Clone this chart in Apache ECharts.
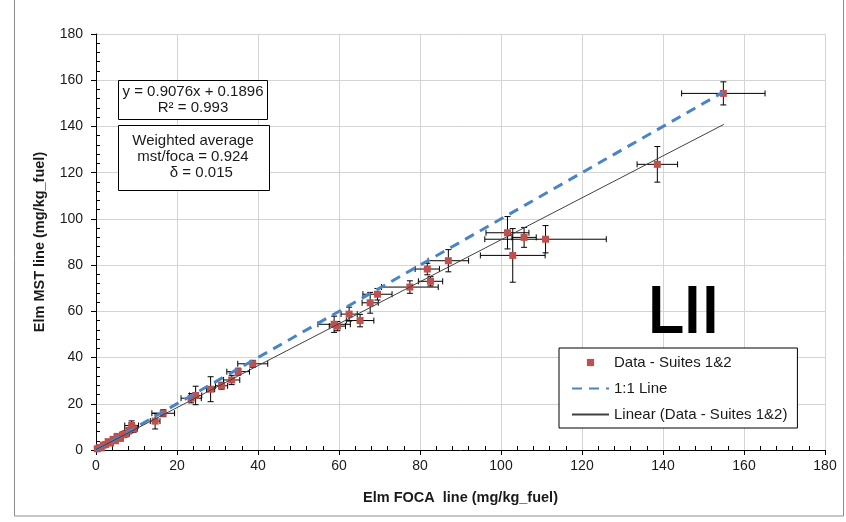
<!DOCTYPE html>
<html><head><meta charset="utf-8">
<script src="https://cdn.jsdelivr.net/npm/echarts@6/dist/echarts.min.js"></script>
<style>html,body{margin:0;padding:0;background:#fff}#c{width:846px;height:522px}</style>
</head><body><div id="c"></div>
<script>
// ---- data ----
const focaValues = [0.3,0.8,1.3,1.8,2.4,3.0,3.6,4.2,4.8,5.3,6.0,6.7,7.3,8.1,8.8,9.3,
  14.6,16.6,23.5,24.6,28.3,31.0,33.5,35.1,38.7,
  58.8,59.6,62.5,65.2,67.7,69.5,77.5,81.8,82.6,87.0,
  101.6,105.7,111.0,102.9,138.6,154.9];
const mstValues = [0.5,1.0,0.9,2.1,2.4,3.6,3.0,4.6,4.0,5.9,5.0,6.6,7.0,8.4,10.6,9.2,
  12.5,15.9,22.4,23.6,26.3,27.8,30.3,33.9,37.3,
  54.4,53.6,58.8,56.0,63.7,67.4,70.5,78.3,73.0,81.9,
  94.0,92.0,91.2,84.2,123.6,154.3];
const focaErrors = [0.3,0.4,0.3,0.5,0.4,0.6,0.5,0.6,0.5,0.8,0.7,0.8,0.9,1.0,1.7,0.9,
  1.2,2.8,2.5,1.5,1.0,1.5,2.0,2.8,3.7,
  4.0,2.0,2.0,3.4,2.0,3.6,7.0,3.0,3.0,5.0,
  5.3,3.0,15.0,8.0,5.0,10.3];
const mstErrors = [0.3,0.4,0.4,0.5,0.5,0.6,0.6,0.8,0.7,1.0,0.9,1.2,1.3,1.4,2.0,1.5,
  3.4,1.5,2.0,4.0,5.4,1.5,2.0,1.5,1.5,
  3.5,2.0,3.0,2.7,4.5,2.5,2.7,2.5,2.0,4.8,
  7.0,4.3,5.9,11.6,7.7,5.0];
const oneToOneX = [0, 155];
const oneToOneY = [0, 155];
const trendX = [0, 155];
const trendY = [0.1896, 140.87];
const axisMin = 0, axisMax = 180, axisStep = 20;
const seriesNames = ['Data - Suites 1&2', '1:1 Line', 'Linear (Data - Suites 1&2)'];
const fitText = 'y = 0.9076x + 0.1896\nR² = 0.993';
const avgText = 'Weighted average\nmst/foca = 0.924\n    δ = 0.015';
const panelLabel = 'LII';
const xTitle = 'Elm FOCA  line (mg/kg_fuel)';
const yTitle = 'Elm MST line (mg/kg_fuel)';

// ---- build ----
const FONT = '"Liberation Sans", Arial, sans-serif';
const TXT = '#1a1a1a';
const pts = focaValues.map((v, i) => [v, mstValues[i]]);
const errData = focaValues.map((v, i) => [v, mstValues[i], focaErrors[i], mstErrors[i]]);

function mainAxis(isX) {
  return {
    type: 'value', min: axisMin, max: axisMax, interval: axisStep,
    position: isX ? 'bottom' : 'left',
    axisLine: { show: true, lineStyle: { color: '#000', width: 1 } },
    axisTick: { show: true, inside: false, length: 5, lineStyle: { color: '#000' } },
    axisLabel: { color: TXT, fontFamily: FONT, fontSize: 14, margin: isX ? 9 : 13 },
    splitLine: { show: true, lineStyle: { color: '#d4d4d4', width: 1 } },
    name: isX ? xTitle : yTitle,
    nameLocation: 'middle',
    nameGap: isX ? 40 : 49,
    nameTextStyle: { color: TXT, fontFamily: FONT, fontSize: 14.5, fontWeight: 'bold' }
  };
}
function minorAxis(isX) {
  return {
    type: 'value', min: axisMin, max: axisMax, interval: axisStep,
    position: isX ? 'bottom' : 'left',
    axisLine: { show: false },
    axisTick: { show: false, inside: true },
    minorTick: { show: true, splitNumber: 5, length: 4, lineStyle: { color: '#000', width: 1 } },
    axisLabel: { show: false },
    splitLine: { show: false }
  };
}

const chart = echarts.init(document.getElementById('c'), null, { renderer: 'canvas' });
chart.setOption({
  animation: false,
  backgroundColor: '#fff',
  grid: { left: 96, right: 21, top: 34, bottom: 72, containLabel: false },
  xAxis: [mainAxis(true), minorAxis(true)],
  yAxis: [mainAxis(false), minorAxis(false)],
  legend: {
    orient: 'vertical', left: 559, top: 348,
    itemWidth: 37, itemHeight: 9, itemGap: 11,
    padding: [7, 10, 6, 12],
    borderColor: '#000', borderWidth: 1, backgroundColor: '#fff',
    textStyle: { color: TXT, fontFamily: FONT, fontSize: 15 },
    selectedMode: false,
    data: [
      { name: seriesNames[0], lineStyle: { opacity: 0 } },
      { name: seriesNames[1], itemStyle: { opacity: 0 } },
      { name: seriesNames[2], itemStyle: { opacity: 0 } }
    ]
  },
  graphic: [
    { type: 'rect', silent: true, z: 0, shape: { x: 14.5, y: -2, width: 829, height: 518 },
      style: { fill: 'none', stroke: '#8c8c8c', lineWidth: 1 } },
    { type: 'rect', z: 10, shape: { x: 118.5, y: 80.5, width: 149, height: 39 },
      style: { fill: '#fff', stroke: '#000', lineWidth: 1 } },
    { type: 'text', z: 11, style: { x: 193, y: 100, text: fitText, align: 'center', verticalAlign: 'middle',
      font: '15px ' + FONT, fill: TXT, lineHeight: 16.5 } },
    { type: 'rect', z: 10, shape: { x: 118.5, y: 125.5, width: 151, height: 65 },
      style: { fill: '#fff', stroke: '#000', lineWidth: 1 } },
    { type: 'text', z: 11, style: { x: 193, y: 157, text: avgText, align: 'center', verticalAlign: 'middle',
      font: '15px ' + FONT, fill: TXT, lineHeight: 16 } },
    { type: 'text', z: 11, style: { x: 648, y: 314, text: panelLabel, align: 'left', verticalAlign: 'middle',
      font: '64px ' + FONT, fill: '#000', stroke: '#000', lineWidth: 2 } }
  ],
  series: [
    {
      type: 'custom', name: 'errors', z: 2, silent: true,
      data: errData,
      encode: { x: 0, y: 1 },
      renderItem: function (params, api) {
        const x = api.value(0), y = api.value(1), ex = api.value(2), ey = api.value(3);
        const l = api.coord([x - ex, y]), r = api.coord([x + ex, y]);
        const t = api.coord([x, y + ey]), b = api.coord([x, y - ey]);
        const c = 3;
        const st = { stroke: '#000', lineWidth: 1 };
        const ln = (x1, y1, x2, y2) => ({ type: 'line', shape: { x1, y1, x2, y2 }, style: st });
        return { type: 'group', children: [
          ln(l[0], l[1], r[0], r[1]),
          ln(l[0], l[1] - c, l[0], l[1] + c),
          ln(r[0], r[1] - c, r[0], r[1] + c),
          ln(t[0], t[1], b[0], b[1]),
          ln(t[0] - c, t[1], t[0] + c, t[1]),
          ln(b[0] - c, b[1], b[0] + c, b[1])
        ] };
      }
    },
    {
      type: 'line', name: seriesNames[0], z: 3, data: pts,
      symbol: 'rect', symbolSize: 7, showSymbol: true, showAllSymbol: true,
      itemStyle: { color: '#c0504d' },
      lineStyle: { opacity: 0, width: 0 }
    },
    {
      type: 'line', name: seriesNames[1], z: 4,
      data: oneToOneX.map((v, i) => [v, oneToOneY[i]]),
      symbol: 'none', itemStyle: { color: '#4a84c6' },
      lineStyle: { color: '#4a84c6', width: 3, type: [10, 7] }
    },
    {
      type: 'line', name: seriesNames[2], z: 4,
      data: trendX.map((v, i) => [v, trendY[i]]),
      symbol: 'none', itemStyle: { color: '#404040' },
      lineStyle: { color: '#404040', width: 1 }
    }
  ]
});
</script></body></html>
